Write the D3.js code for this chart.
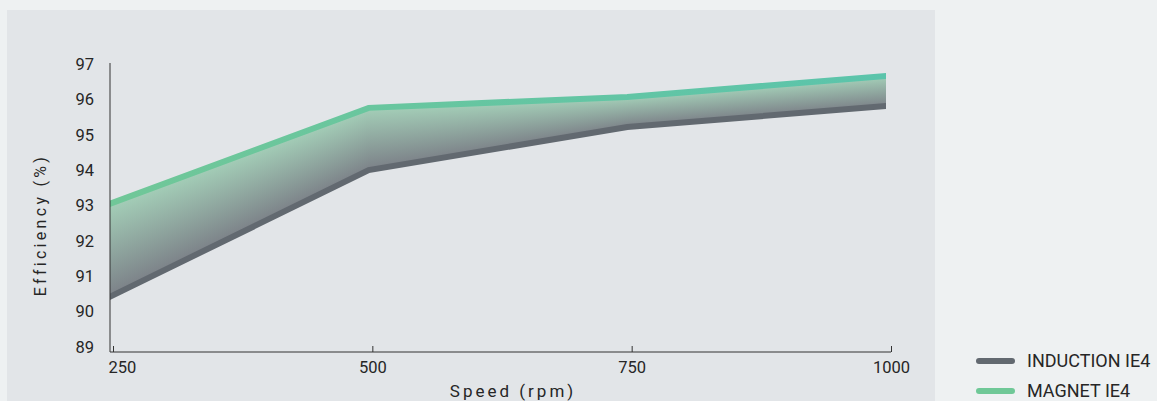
<!DOCTYPE html>
<html>
<head>
<meta charset="utf-8">
<script src="https://cdn.jsdelivr.net/npm/d3@7"></script>
<style>
  html, body { margin: 0; padding: 0; background: #eef1f2; }
  svg { display: block; font-family: Roboto, "Noto Sans", sans-serif; }
</style>
</head>
<body>
<div id="chart"></div>
<script>
// speed (rpm) and efficiency (%)
const speeds = [250, 500, 750, 1000];
const induction = [90.42, 94.0, 95.22, 95.81];
const magnet = [93.05, 95.76, 96.07, 96.66];
const yTicks = [89, 90, 91, 92, 93, 94, 95, 96, 97];
const seriesNames = ['INDUCTION IE4', 'MAGNET IE4'];

const width = 1157, height = 401;
const textColor = '#262626';

const svg = d3.select('#chart').append('svg')
    .attr('width', width)
    .attr('height', height);

const defs = svg.append('defs');

// band fill: green under the magnet line fading to grey at the induction line
const band = defs.append('linearGradient')
    .attr('id', 'band')
    .attr('x1', 0).attr('y1', 0).attr('x2', 0).attr('y2', 1);
band.append('stop').attr('offset', '0%').attr('stop-color', '#a4cfb8');
band.append('stop').attr('offset', '100%').attr('stop-color', '#7c8188');

const greenLine = defs.append('linearGradient')
    .attr('id', 'greenLine')
    .attr('x1', 0).attr('y1', 0).attr('x2', 1).attr('y2', 0);
greenLine.append('stop').attr('offset', '0%').attr('stop-color', '#70c798');
greenLine.append('stop').attr('offset', '100%').attr('stop-color', '#5bc4ab');

// chart panel
svg.append('rect')
    .attr('x', 7).attr('y', 10)
    .attr('width', 928).attr('height', height - 10)
    .attr('fill', '#e2e5e8');

const x = d3.scaleLinear().domain([250, 1000]).range([110, 886]);
const xTick = d3.scaleLinear().domain([250, 1000]).range([113, 891]);
const y = d3.scaleLinear().domain([89, 97]).range([347, 64]);
const axisY = 352;

defs.append('clipPath').attr('id', 'plotClip')
    .append('rect')
    .attr('x', x(250)).attr('y', 0)
    .attr('width', x(1000) - x(250)).attr('height', height);

// interpolation helpers along the polylines (used only to slice the band for the gradient)
const topAt = d3.scaleLinear().domain(speeds).range(magnet);
const botAt = d3.scaleLinear().domain(speeds).range(induction);

const plot = svg.append('g').attr('clip-path', 'url(#plotClip)');

const step = 2;
const cols = d3.range(x(250), x(1000), step);
plot.append('g')
    .selectAll('path')
    .data(cols)
    .join('path')
    .attr('d', px => {
        const x0 = px, x1 = Math.min(px + step + 0.8, x(1000));
        const s0 = x.invert(x0), s1 = x.invert(x1);
        return `M${x0},${y(topAt(s0))}L${x1},${y(topAt(s1))}L${x1},${y(botAt(s1))}L${x0},${y(botAt(s0))}Z`;
    })
    .attr('fill', 'url(#band)');

const line = d3.line()
    .x((d, i) => x(speeds[i]))
    .y(d => y(d));

plot.append('path')
    .datum(induction)
    .attr('d', line)
    .attr('fill', 'none')
    .attr('stroke', '#626970')
    .attr('stroke-width', 6)
    .attr('stroke-linecap', 'square');

plot.append('path')
    .datum(magnet)
    .attr('d', line)
    .attr('fill', 'none')
    .attr('stroke', 'url(#greenLine)')
    .attr('stroke-width', 6)
    .attr('stroke-linecap', 'square');

// axes
svg.append('line')
    .attr('x1', 110).attr('x2', 110)
    .attr('y1', 63).attr('y2', axisY)
    .attr('stroke', '#333').attr('stroke-width', 1);

const xAxis = svg.append('g')
    .attr('transform', `translate(0,${axisY})`)
    .call(d3.axisBottom(xTick).tickValues(speeds).tickFormat(d3.format('d'))
        .tickSize(-6).tickSizeOuter(0).tickPadding(9));
xAxis.select('.domain')
    .attr('d', `M110,0H${xTick(1000)}`)
    .attr('stroke', '#333');
xAxis.selectAll('.tick line').attr('stroke', '#333');
xAxis.selectAll('.tick text')
    .attr('font-size', 16.5)
    .attr('font-family', 'Roboto, sans-serif')
    .attr('fill', textColor);
xAxis.selectAll('.tick text')
    .filter(d => d === 250)
    .attr('text-anchor', 'start')
    .attr('x', 108 - xTick(250));

const yAxis = svg.append('g')
    .attr('transform', 'translate(110,0)')
    .call(d3.axisLeft(y).tickValues(yTicks).tickSize(0).tickPadding(16));
yAxis.select('.domain').remove();
yAxis.selectAll('.tick text')
    .attr('font-size', 16.5)
    .attr('font-family', 'Roboto, sans-serif')
    .attr('fill', textColor);

// axis titles
svg.append('text')
    .attr('x', 513).attr('y', 397)
    .attr('text-anchor', 'middle')
    .attr('font-size', 17)
    .attr('letter-spacing', 3)
    .attr('fill', textColor)
    .text('Speed (rpm)');

svg.append('text')
    .attr('transform', 'translate(46,225) rotate(-90)')
    .attr('text-anchor', 'middle')
    .attr('font-size', 16)
    .attr('letter-spacing', 3.3)
    .attr('fill', textColor)
    .text('Efficiency (%)');

// legend (kept just inside the bottom edge)
const legendColors = ['#626970', '#6fc897'];
const legend = svg.append('g')
    .selectAll('g')
    .data(seriesNames)
    .join('g')
    .attr('transform', (d, i) => `translate(0,${361 + i * 30})`);
legend.append('line')
    .attr('x1', 979).attr('x2', 1012)
    .attr('stroke', (d, i) => legendColors[i])
    .attr('stroke-width', 6)
    .attr('stroke-linecap', 'round');
legend.append('text')
    .attr('x', 1027)
    .attr('dy', '0.36em')
    .attr('font-size', 18)
    .attr('fill', textColor)
    .text(d => d);
</script>
</body>
</html>
